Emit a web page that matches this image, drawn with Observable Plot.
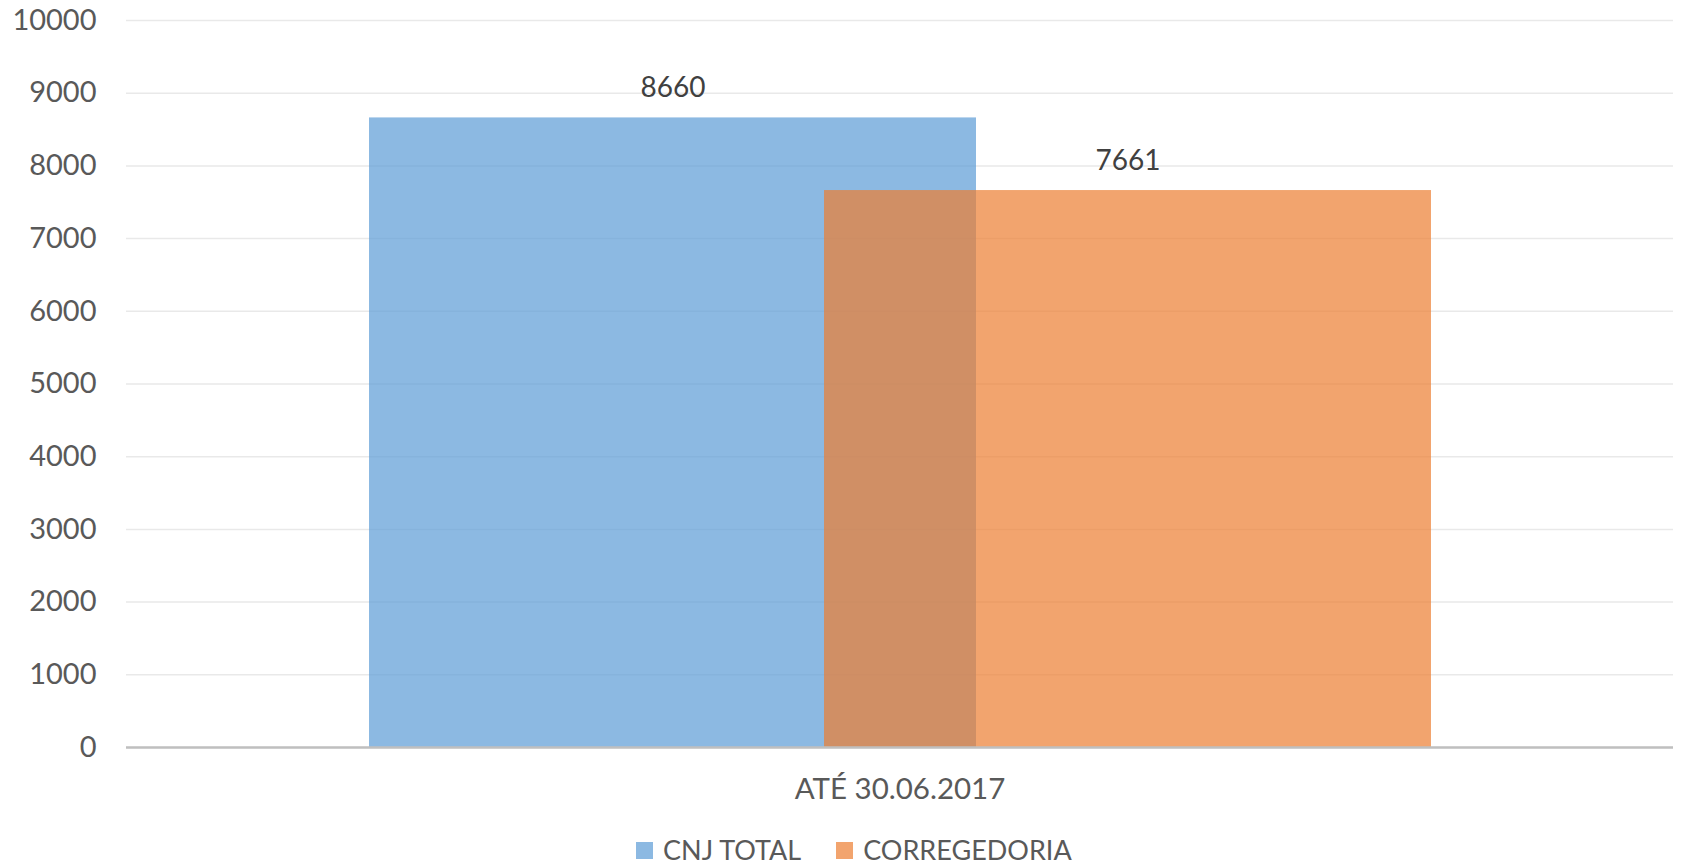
<!DOCTYPE html>
<html><head><meta charset="utf-8">
<script src="https://cdn.jsdelivr.net/npm/d3@7"></script>
<script src="https://cdn.jsdelivr.net/npm/@observablehq/plot@0.6"></script>
<style>
body{margin:0;background:#fff;font-family:Lato,sans-serif;}
#wrap{position:relative;width:1683px;height:865px;overflow:hidden;}
#legend{position:absolute;left:636px;top:835px;display:flex;align-items:center;font-size:27px;color:#595959;line-height:30px;}
.item{display:flex;align-items:center;margin-right:35px;}
.sw{width:17px;height:17px;margin-right:10px;}
</style></head><body><div id="wrap"></div>
<script>
const categories = ["ATÉ 30.06.2017"];
const series = ["CNJ TOTAL", "CORREGEDORIA"];
const values = [8660, 7661];
const colors = ["#5B9BD5", "#ED7D31"];
const yTicks = [0, 1000, 2000, 3000, 4000, 5000, 6000, 7000, 8000, 9000, 10000];

const data = series.map((s, i) => ({category: categories[0], series: s, value: values[i]}));

const chart = Plot.plot({
  width: 1683, height: 820,
  marginTop: 20, marginBottom: 73, marginLeft: 126, marginRight: 10,
  style: {fontFamily: "Lato, sans-serif", fontSize: "28px", color: "#595959", background: "#fff"},
  fx: {domain: categories, padding: 0, label: null},
  x: {domain: series, paddingInner: 0, paddingOuter: 0.7, axis: null},
  y: {domain: [0, 10000], label: null},
  color: {domain: series, range: colors},
  marks: [
    Plot.gridY(yTicks, {stroke: "#e9e9e9", strokeOpacity: 1, strokeWidth: 1.5}),
    Plot.axisY(yTicks, {tickSize: 0, tickPadding: 30, label: null, fontSize: 29, fill: "#595959", tickFormat: d => String(d)}),
    Plot.barY(data, {fx: "category", x: "series", y: "value", fill: "series", fillOpacity: 0.7, insetLeft: -76, insetRight: -76}),
    Plot.text(data, {fx: "category", x: "series", y: "value", text: d => String(d.value), dy: -30, fontSize: 28, fill: "#404040"}),
    Plot.ruleY([0], {stroke: "#bfbfbf", strokeWidth: 2.5}),
    Plot.axisFx({anchor: "bottom", tickSize: 0, tickPadding: 31, label: null, fontSize: 29.5, fill: "#595959"})
  ]
});
const wrap = document.getElementById("wrap");
wrap.appendChild(chart);

const legend = document.createElement("div");
legend.id = "legend";
series.forEach((s, i) => {
  const item = document.createElement("div");
  item.className = "item";
  const sw = document.createElement("span");
  sw.className = "sw";
  sw.style.background = colors[i];
  sw.style.opacity = 0.7;
  const t = document.createElement("span");
  t.textContent = s;
  item.appendChild(sw);
  item.appendChild(t);
  legend.appendChild(item);
});
wrap.appendChild(legend);
</script>
</body></html>
